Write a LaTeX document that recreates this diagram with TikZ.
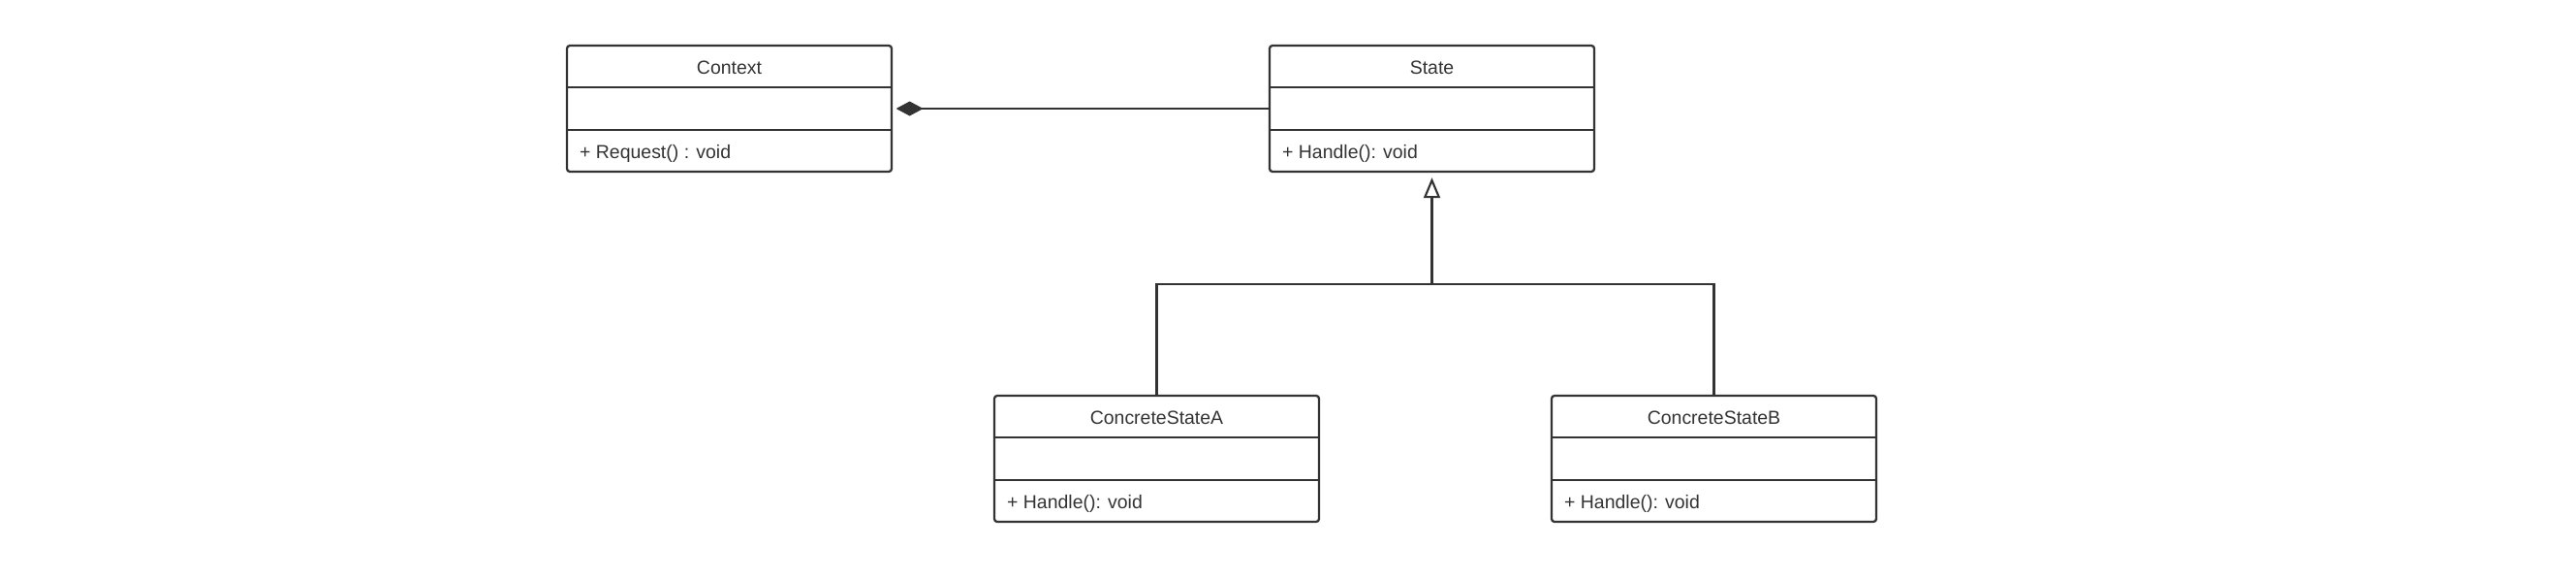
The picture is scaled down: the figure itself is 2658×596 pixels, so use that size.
\documentclass[tikz,border=0pt]{standalone}
\usepackage{fontspec}
\setmainfont{Liberation Sans}
\usetikzlibrary{arrows.meta}

\definecolor{linegray}{HTML}{333333}
\definecolor{textgray}{HTML}{333333}

\tikzset{
  umlbox/.style={draw=linegray, line width=1.7pt, rounded corners=2.25pt,
    minimum width=251.25pt, minimum height=97.5pt, inner sep=0pt},
  divider/.style={draw=linegray, line width=1.7pt},
  link/.style={draw=linegray, line width=1.6pt},
  titletext/.style={font=\fontsize{14.6}{17}\selectfont, text=textgray},
  membertext/.style={font=\fontsize{14.6}{17}\selectfont, text=textgray, anchor=west, inner sep=0pt}
}

\begin{document}
\begin{tikzpicture}[x=0.75pt,y=-0.75pt]
\useasboundingbox (0,0) rectangle (2658,596);

% class boxes
\node[umlbox] (context) at (752.5,112) {};
\node[umlbox] (state) at (1477.5,112) {};
\node[umlbox] (stateA) at (1193.5,473) {};
\node[umlbox] (stateB) at (1768.5,473) {};

\foreach \n in {context,state,stateA,stateB} {
  \draw[divider] ([yshift=16.25pt]\n.west) -- ([yshift=16.25pt]\n.east);
  \draw[divider] ([yshift=-16.25pt]\n.west) -- ([yshift=-16.25pt]\n.east);
}

% names and operations
\node[titletext] (contextName) at ([yshift=31.4pt]context.center) {Context};
\node[membertext] (contextOp) at ([xshift=10.5pt,yshift=-35.2pt]context.west) {+ Request() : void};
\node[titletext] (stateName) at ([yshift=31.4pt]state.center) {State};
\node[membertext] (stateOp) at ([xshift=10.5pt,yshift=-35.2pt]state.west) {+ Handle(): void};
\node[titletext] (stateAName) at ([yshift=31.4pt]stateA.center) {ConcreteStateA};
\node[membertext] (stateAOp) at ([xshift=10.5pt,yshift=-35.2pt]stateA.west) {+ Handle(): void};
\node[titletext] (stateBName) at ([yshift=31.4pt]stateB.center) {ConcreteStateB};
\node[membertext] (stateBOp) at ([xshift=10.5pt,yshift=-35.2pt]stateB.west) {+ Handle(): void};

% composition
\draw[link, {Diamond[length=21pt,width=11.25pt]}-] ([xshift=2.6pt]context.east) -- (state.west);

% generalization
\coordinate (fork) at (1477.5,293);
\draw[link] (stateA.north) |- (fork) -| (stateB.north);
\draw[link, -{Triangle[open,length=15.75pt,width=12.75pt]}] (fork) -- ([yshift=-3.75pt]state.south);

\end{tikzpicture}
\end{document}
